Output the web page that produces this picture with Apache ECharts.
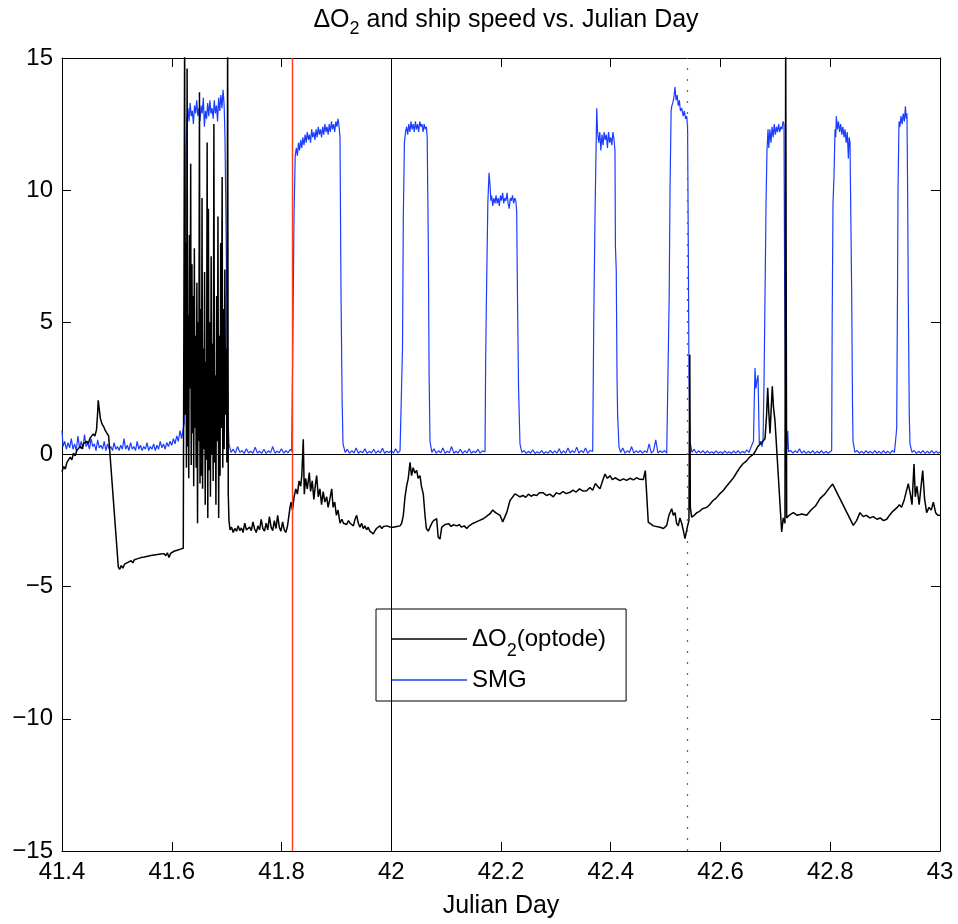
<!DOCTYPE html>
<html>
<head>
<meta charset="utf-8">
<script src="https://cdn.jsdelivr.net/npm/echarts@6/dist/echarts.min.js"></script>
<style>
html,body{margin:0;padding:0;background:#fff;}
#chart{width:958px;height:924px;}
</style>
</head>
<body>
<div id="chart"></div>
<script>
// ---------- data (Julian day, value) ----------
const o2Early = [
[41.400,-0.65],[41.403,-0.45],[41.406,-0.55],[41.409,-0.30],[41.412,-0.35],[41.415,-0.10],[41.418,-0.20],
[41.421,0.05],[41.424,-0.05],[41.427,0.15],[41.430,0.10],[41.433,0.30],[41.436,0.22],[41.439,0.40],
[41.442,0.35],[41.445,0.50],[41.448,0.42],[41.451,0.62],[41.454,0.55],[41.457,0.78],[41.460,0.70],
[41.463,0.95],[41.465,1.6],[41.466,2.05],[41.468,1.7],[41.470,1.35],[41.473,1.15],[41.476,1.05],
[41.479,0.90],[41.482,0.80],[41.485,0.70],[41.487,0.64],
[41.5026,-4.25],[41.505,-4.35],[41.508,-4.20],[41.511,-4.30],[41.514,-4.15],[41.517,-4.22],[41.520,-4.08],
[41.523,-4.14],[41.526,-4.02],[41.529,-4.10],[41.532,-3.98],[41.535,-4.05],[41.538,-3.94],[41.541,-4.00],
[41.544,-3.90],[41.547,-3.97],[41.550,-3.88],[41.553,-3.93],[41.556,-3.85],[41.559,-3.92],[41.562,-3.82],
[41.565,-3.88],[41.568,-3.80],[41.571,-3.86],[41.574,-3.78],[41.577,-3.84],[41.580,-3.76],[41.583,-3.82],
[41.586,-3.75],[41.589,-3.83],[41.592,-3.72],[41.595,-3.90],[41.598,-3.74],[41.601,-3.70],[41.604,-3.66],
[41.607,-3.70],[41.610,-3.62],[41.613,-3.65],[41.616,-3.58],[41.619,-3.62],[41.621,-3.55]
];
const o2Burst = [
[41.6229,-3.5],[41.6235,16],[41.6245,1.5],[41.6258,8.0],[41.6268,-0.5],[41.6280,14.6],[41.6290,0.3],
[41.6300,5.3],[41.6310,-0.9],[41.6322,8.3],[41.6332,2.5],[41.6345,11.0],[41.6355,-0.4],[41.6368,7.2],
[41.6378,0.8],[41.6390,6.0],[41.6400,-1.2],[41.6412,7.8],[41.6422,1.0],[41.6435,4.5],[41.6445,-0.5],
[41.6458,6.5],[41.6470,-2.6],[41.6482,5.0],[41.6492,0.5],[41.6505,13.7],[41.6515,-1.1],[41.6528,5.5],
[41.6540,-0.8],[41.6552,9.7],[41.6562,-1.3],[41.6575,4.0],[41.6585,0.2],[41.6598,6.9],[41.6610,-1.9],
[41.6622,3.5],[41.6632,-0.2],[41.6645,11.8],[41.6657,-2.4],[41.6668,9.3],[41.6680,-0.6],[41.6692,5.0],
[41.6705,-1.6],[41.6718,7.5],[41.6730,0.0],[41.6742,4.2],[41.6755,-1.0],[41.6768,12.5],[41.6780,-0.3],
[41.6792,3.0],[41.6805,-1.9],[41.6818,6.0],[41.6830,0.5],[41.6842,9.0],[41.6855,-2.4],[41.6868,4.5],
[41.6880,-0.8],[41.6892,8.0],[41.6905,1.0],[41.6918,10.5],[41.6930,-0.5],[41.6942,5.5],[41.6955,0.2],
[41.6968,7.0],[41.6980,1.5],[41.6992,4.0],[41.7005,-0.3],[41.7018,16],[41.7030,-1.5],[41.7043,-2.5],
[41.7062,-2.85]
];
const o2Mid = [
[41.709,-2.75],[41.712,-2.95],[41.715,-2.80],[41.718,-2.90],[41.721,-2.70],[41.724,-2.88],[41.727,-2.78],
[41.730,-2.95],[41.733,-2.60],[41.736,-2.85],[41.739,-2.92],[41.742,-2.75],[41.745,-2.88],[41.748,-2.55],
[41.751,-2.82],[41.754,-2.95],[41.757,-2.70],[41.760,-2.85],[41.763,-2.45],[41.766,-2.80],[41.769,-2.90],
[41.772,-2.60],[41.775,-2.85],[41.778,-2.35],[41.781,-2.75],[41.784,-2.88],[41.787,-2.50],[41.790,-2.80],
[41.793,-2.30],[41.796,-2.75],[41.799,-2.90],[41.802,-2.55],[41.805,-2.85],[41.808,-2.95],[41.811,-2.70],
[41.8155,-2.0],[41.8175,-1.8],[41.820,-2.1],[41.823,-1.6],[41.826,-1.3],[41.829,-1.5],[41.832,-1.0],
[41.835,-1.2],[41.837,-0.8],[41.8397,0.58],[41.8415,-1.5],[41.844,-0.9],[41.847,-1.3],[41.8507,-0.68],
[41.853,-1.4],[41.856,-1.0],[41.859,-1.7],[41.862,-1.1],[41.8641,-0.8],[41.867,-1.6],[41.870,-1.3],
[41.873,-1.9],[41.876,-1.4],[41.879,-1.8],[41.8824,-1.6],[41.885,-2.0],[41.888,-1.7],[41.8915,-1.3],
[41.894,-2.0],[41.897,-1.8],[41.900,-2.3],[41.903,-2.1],[41.9066,-2.6],[41.910,-2.45],[41.913,-2.6],
[41.916,-2.55],[41.9188,-2.65],[41.922,-2.5],[41.925,-2.6],[41.928,-2.55],[41.931,-2.7],[41.934,-2.45],
[41.937,-2.3],[41.940,-2.6],[41.943,-2.75],[41.946,-2.6],[41.949,-2.8],[41.952,-2.7],[41.955,-2.85],
[41.958,-2.75],[41.961,-2.9],[41.964,-2.85],[41.9673,-3.0],[41.970,-2.9],[41.973,-2.8],[41.976,-2.85],
[41.9795,-2.7],[41.983,-2.8],[41.986,-2.72],[41.989,-2.78],[41.992,-2.7],[41.995,-2.76],[41.9977,-2.74],
[42.001,-2.7],[42.004,-2.75],[42.007,-2.68],[42.010,-2.72],[42.013,-2.65],[42.016,-2.7],[42.019,-2.6],
[42.022,-2.3],[42.0251,-1.6],[42.028,-1.2],[42.031,-0.9],[42.0342,-0.3],[42.037,-0.8],[42.040,-0.5],
[42.043,-0.7],[42.0464,-0.6],[42.049,-0.9],[42.0524,-0.8],[42.055,-1.2],[42.0584,-1.5],[42.0615,-2.3],
[42.064,-2.8],[42.0675,-2.9],[42.0706,-2.75],[42.074,-2.6],[42.077,-2.5],[42.0828,-2.43],[42.0855,-3.12],
[42.0888,-3.2],[42.092,-2.75],[42.095,-2.7],[42.098,-2.65],[42.1011,-2.68],[42.105,-2.62],[42.109,-2.72],
[42.113,-2.66],[42.1193,-2.7],[42.124,-2.65],[42.128,-2.75],[42.133,-2.7],[42.1375,-2.8],[42.142,-2.7],
[42.1495,-2.6],[42.155,-2.55],[42.160,-2.5],[42.1677,-2.43],[42.173,-2.35],[42.1800,-2.24],[42.185,-2.1],
[42.190,-2.2],[42.1982,-2.3],[42.2031,-2.55],[42.2104,-2.2],[42.2164,-1.74],[42.2255,-1.49],[42.2346,-1.6],
[42.240,-1.55],[42.245,-1.62],[42.250,-1.5],[42.255,-1.58],[42.260,-1.52],[42.2651,-1.55],[42.270,-1.45],
[42.2771,-1.45],[42.283,-1.55],[42.289,-1.5],[42.2953,-1.6],[42.301,-1.45],[42.307,-1.5],[42.313,-1.4],
[42.319,-1.48],[42.3257,-1.43],[42.331,-1.35],[42.337,-1.42],[42.343,-1.3],[42.349,-1.38],[42.3562,-1.37],
[42.362,-1.25],[42.367,-1.35],[42.372,-1.1],[42.376,-1.2],[42.3804,-1.3],[42.385,-1.0],[42.3895,-0.74],
[42.394,-0.9],[42.3986,-0.8],[42.403,-0.95],[42.408,-0.88],[42.4169,-0.99],[42.423,-0.92],[42.429,-0.98],
[42.435,-0.9],[42.4411,-0.96],[42.447,-0.88],[42.453,-0.94],[42.4593,-0.95],[42.4630,-0.61],[42.4684,-2.56],
[42.4775,-2.7],[42.4897,-2.75]
];
const o2Late = [
[42.4960,-2.8],[42.5020,-2.68],[42.5060,-2.3],[42.5111,-2.05],[42.5140,-2.3],[42.5171,-2.2],[42.5200,-2.6],
[42.5231,-2.7],[42.5260,-2.4],[42.5293,-2.6],[42.5325,-2.9],[42.5353,-3.18],[42.5384,-3.2],[42.5400,-2.7],
[42.5425,-2.5],[42.5440,3.77],[42.5450,-2.0],[42.5475,-2.37],[42.552,-2.3],[42.557,-2.2],[42.562,-2.15],
[42.567,-2.05],[42.5749,-2.0],[42.580,-1.9],[42.586,-1.75],[42.592,-1.65],[42.598,-1.5],[42.6051,-1.36],
[42.611,-1.2],[42.617,-1.05],[42.623,-0.9],[42.629,-0.7],[42.6355,-0.49],[42.641,-0.35],[42.647,-0.25],
[42.653,-0.1],[42.6598,0.0],[42.664,0.15],[42.668,0.3],[42.6720,0.39],[42.677,0.5],[42.6811,0.6],
[42.6840,1.5],[42.6860,2.52],[42.6880,1.6],[42.6902,0.8],[42.6944,2.58],[42.6965,1.8],[42.6993,1.27],
[42.7115,-2.93],[42.7144,-2.4],[42.7175,-2.6],[42.7188,16],[42.7206,-2.4],[42.7250,-2.3],[42.7327,-2.2],
[42.740,-2.3],[42.748,-2.25],[42.7571,-2.3],[42.765,-2.1],[42.773,-1.95],[42.7813,-1.67],[42.790,-1.5],
[42.797,-1.3],[42.8044,-1.12],[42.8420,-2.68],[42.848,-2.5],[42.8542,-2.2],[42.860,-2.35],[42.866,-2.3],
[42.872,-2.4],[42.8784,-2.35],[42.885,-2.45],[42.891,-2.4],[42.897,-2.5],[42.9029,-2.45],[42.908,-2.3],
[42.914,-2.15],[42.9211,-2.02],[42.926,-1.9],[42.930,-2.0],[42.935,-1.7],[42.9422,-1.1],[42.946,-1.5],
[42.949,-1.9],[42.9526,-0.36],[42.955,-1.6],[42.958,-1.2],[42.962,-1.9],[42.9685,-0.61],[42.972,-1.7],
[42.9757,-2.2],[42.980,-2.0],[42.984,-2.1],[42.9879,-1.8],[42.992,-2.2],[42.996,-2.3],[43.000,-2.3]
];

const smgA = [
[41.400,0.9],[41.402,0.3],[41.405,0.5],[41.408,0.2],[41.411,0.45],[41.414,0.25],[41.417,0.6],[41.420,0.2],
[41.423,0.4],[41.426,0.15],[41.429,0.7],[41.432,0.25],[41.435,0.5],[41.438,0.2],[41.441,0.75],[41.444,0.3],
[41.447,0.45],[41.450,0.2],[41.453,0.6],[41.456,0.3],[41.459,0.4],[41.462,0.15],[41.465,0.55],[41.468,0.25],
[41.471,0.35],[41.474,0.2],[41.477,0.5],[41.480,0.15],[41.483,0.4],[41.486,0.2],[41.489,0.3],[41.492,0.15],
[41.495,0.45],[41.498,0.2],[41.501,0.3],[41.504,0.15],[41.507,0.35],[41.510,0.2],[41.513,0.6],[41.516,0.2],
[41.519,0.35],[41.522,0.15],[41.525,0.45],[41.528,0.2],[41.531,0.3],[41.534,0.15],[41.537,0.5],[41.540,0.2],
[41.543,0.35],[41.546,0.15],[41.549,0.3],[41.552,0.2],[41.555,0.45],[41.558,0.15],[41.561,0.3],[41.564,0.2],
[41.567,0.4],[41.570,0.15],[41.573,0.35],[41.576,0.2],[41.579,0.5],[41.582,0.25],[41.585,0.4],[41.588,0.2],
[41.591,0.45],[41.594,0.3],[41.597,0.5],[41.600,0.35],[41.603,0.6],[41.606,0.4],[41.609,0.7],[41.612,0.5],
[41.615,0.9],[41.618,0.6],[41.621,1.0],
[41.6229,1.2],[41.6241,6.5],[41.6260,11.5],[41.6278,12.7],[41.6295,13.1],[41.6315,12.6],[41.6335,13.3],
[41.6355,12.8],[41.6375,13.0],[41.6395,12.5],[41.6415,13.2],[41.6435,12.9],[41.6455,13.4],[41.6475,12.8],
[41.6495,13.1],[41.6515,12.6],[41.6535,13.2],[41.6555,12.9],[41.6575,13.5],[41.6595,12.4],[41.6615,13.0],
[41.6635,12.7],[41.6655,13.3],[41.6675,12.8],[41.6695,13.4],[41.6715,12.9],[41.6735,13.1],[41.6755,12.7],
[41.6775,13.4],[41.6795,12.9],[41.6815,13.2],[41.6835,12.6],[41.6855,13.5],[41.6875,13.0],[41.6895,13.6],
[41.6915,13.1],[41.6935,13.8],[41.6955,13.2],[41.6970,12.0],[41.6990,8.5],[41.7006,5.0],[41.7025,1.5],
[41.7043,0.4]
];
const smgB = [
[41.708,0.08],[41.712,0.2],[41.716,0.05],[41.720,0.3],[41.724,0.08],[41.728,0.15],[41.732,0.04],[41.736,0.22],
[41.740,0.06],[41.744,0.12],[41.748,0.05],[41.752,0.28],[41.756,0.06],[41.760,0.12],[41.764,0.05],[41.768,0.2],
[41.772,0.04],[41.776,0.14],[41.780,0.06],[41.784,0.3],[41.788,0.05],[41.792,0.12],[41.796,0.07],[41.800,0.22],
[41.804,0.05],[41.808,0.15],[41.812,0.06],[41.816,0.2],[41.8186,0.12],
[41.8210,5.0],[41.8228,9.0],[41.8250,11.3],[41.827,11.6],[41.829,11.3],[41.831,11.8],[41.833,11.5],
[41.835,11.9],[41.837,11.6],[41.839,12.0],[41.841,11.7],[41.843,12.1],[41.845,11.8],[41.847,12.2],
[41.849,11.9],[41.851,12.1],[41.853,11.8],[41.855,12.3],[41.857,12.0],[41.859,12.2],[41.861,11.9],
[41.863,12.3],[41.865,12.0],[41.867,12.4],[41.869,12.1],[41.871,12.3],[41.873,12.0],[41.875,12.4],
[41.877,12.1],[41.879,12.5],[41.881,12.2],[41.883,12.4],[41.885,12.1],[41.887,12.5],[41.889,12.2],
[41.891,12.6],[41.893,12.3],[41.895,12.5],[41.897,12.2],[41.899,12.6],[41.901,12.4],[41.903,12.7],
[41.905,12.4],[41.9066,12.0],[41.9085,6.0],[41.9105,2.0],[41.9121,0.4],
[41.916,0.08],[41.920,0.2],[41.924,0.05],[41.928,0.14],[41.932,0.06],[41.936,0.25],[41.940,0.05],[41.944,0.12],
[41.948,0.07],[41.952,0.22],[41.956,0.04],[41.960,0.12],[41.964,0.06],[41.968,0.2],[41.972,0.05],[41.976,0.14],
[41.980,0.06],[41.984,0.24],[41.988,0.05],[41.992,0.12],[41.996,0.07],[42.000,0.15],[42.004,0.05],[42.008,0.22],
[42.012,0.06],[42.016,0.14],[42.019,0.1],
[42.0205,4.0],[42.0220,9.0],[42.0240,11.8],[42.0260,12.2],[42.028,12.4],[42.030,12.1],[42.032,12.5],
[42.034,12.2],[42.036,12.6],[42.038,12.3],[42.040,12.5],[42.042,12.2],[42.044,12.6],[42.046,12.3],
[42.048,12.5],[42.050,12.2],[42.052,12.6],[42.054,12.4],[42.056,12.5],[42.058,12.2],[42.060,12.5],
[42.062,12.3],[42.064,12.4],[42.0655,12.0],[42.0675,8.0],[42.0690,3.0],[42.0706,0.5]
];
const smgC = [
[42.074,0.08],[42.078,0.22],[42.082,0.05],[42.086,0.14],[42.090,0.06],[42.094,0.25],[42.098,0.05],[42.102,0.12],
[42.106,0.07],[42.110,0.3],[42.114,0.05],[42.118,0.12],[42.122,0.06],[42.126,0.2],[42.130,0.04],[42.134,0.14],
[42.138,0.06],[42.142,0.22],[42.146,0.05],[42.150,0.12],[42.154,0.07],[42.158,0.2],[42.162,0.05],[42.166,0.14],
[42.1709,0.1],
[42.1720,3.5],[42.1735,6.0],[42.1760,9.5],[42.1782,10.66],[42.1800,10.2],[42.1815,9.6],[42.183,9.8],
[42.185,9.4],[42.187,9.7],[42.189,9.5],[42.191,9.8],[42.193,9.5],[42.195,9.7],[42.197,9.4],[42.199,9.8],
[42.201,9.6],[42.203,9.9],[42.205,9.5],[42.207,9.7],[42.209,9.6],[42.211,9.9],[42.213,9.5],[42.215,9.3],
[42.217,9.7],[42.219,9.6],[42.221,9.8],[42.223,9.5],[42.225,9.7],[42.227,9.6],[42.2286,9.2],[42.2300,6.0],
[42.2320,2.5],[42.2346,0.4],
[42.238,0.08],[42.242,0.15],[42.246,0.04],[42.250,0.12],[42.254,0.05],[42.258,0.18],[42.262,0.04],[42.266,0.1],
[42.270,0.05],[42.274,0.15],[42.278,0.04],[42.282,0.1],[42.286,0.05],[42.290,0.16],[42.294,0.04],[42.298,0.14],
[42.302,0.05],[42.306,0.22],[42.310,0.04],[42.314,0.14],[42.318,0.05],[42.322,0.25],[42.326,0.06],[42.330,0.14],
[42.334,0.07],[42.338,0.28],[42.342,0.05],[42.346,0.15],[42.350,0.07],[42.354,0.25],[42.358,0.05],[42.362,0.15],
[42.3671,0.12],
[42.3690,5.0],[42.3713,9.0],[42.3744,13.1],[42.3760,12.2],[42.378,11.8],[42.380,12.2],[42.382,11.5],
[42.384,12.1],[42.386,11.7],[42.388,12.2],[42.390,11.9],[42.392,12.1],[42.394,11.6],[42.396,12.2],
[42.398,11.8],[42.400,12.0],[42.402,11.7],[42.404,12.2],[42.406,11.9],[42.4077,11.5],[42.4085,7.9],
[42.4100,7.0],[42.4114,3.0],[42.4125,1.5],[42.4150,0.3],
[42.418,0.08],[42.422,0.25],[42.426,0.05],[42.430,0.14],[42.434,0.07],[42.438,0.3],[42.442,0.05],[42.446,0.14],
[42.450,0.07],[42.454,0.15],[42.458,0.05],[42.462,0.14],[42.466,0.07],[42.470,0.4],[42.474,0.05],[42.478,0.14],
[42.482,0.55],[42.486,0.05],[42.490,0.14],[42.494,0.07],[42.498,0.15],[42.502,0.05],[42.5049,0.12]
];
const smgD = [
[42.5065,6.0],[42.5080,10.0],[42.5100,13.0],[42.5111,13.17],[42.5130,13.3],[42.5150,13.5],[42.5171,13.9],
[42.5190,13.4],[42.5210,13.6],[42.5231,13.2],[42.5250,13.4],[42.5270,13.0],[42.5293,13.1],[42.5320,12.8],
[42.5340,13.0],[42.5365,12.7],[42.5384,12.8],[42.5400,12.4],[42.5413,8.0],[42.5425,3.0],[42.5444,0.5],
[42.548,0.08],[42.552,0.2],[42.556,0.05],[42.560,0.14],[42.564,0.06],[42.568,0.15],[42.572,0.04],[42.576,0.14],
[42.580,0.05],[42.584,0.1],[42.588,0.04],[42.592,0.14],[42.596,0.05],[42.600,0.1],[42.604,0.04],[42.608,0.14],
[42.612,0.05],[42.616,0.1],[42.620,0.04],[42.624,0.14],[42.628,0.05],[42.632,0.15],[42.636,0.04],[42.640,0.12],
[42.644,0.06],[42.648,0.18],[42.652,0.07],[42.656,0.3],[42.6601,0.5],
[42.6615,2.0],[42.6629,3.27],[42.6645,2.5],[42.6665,2.8],[42.6684,3.0],[42.6707,0.4],[42.6730,0.5],
[42.6755,0.3],[42.6775,0.5],
[42.6795,3.0],[42.6811,6.0],[42.6830,9.5],[42.6847,11.5],[42.6866,12.3],[42.6880,11.6],[42.690,12.3],
[42.692,11.8],[42.694,12.4],[42.696,12.0],[42.698,12.5],[42.700,12.1],[42.702,12.4],[42.704,12.2],
[42.706,12.5],[42.708,12.2],[42.710,12.4],[42.712,12.3],[42.714,12.6],[42.7157,12.5],[42.7170,6.0],
[42.7194,0.5],[42.7210,0.2],[42.7225,0.9],[42.7240,0.1],
[42.728,0.15],[42.732,0.05],[42.736,0.14],[42.740,0.07],[42.744,0.22],[42.748,0.05],[42.752,0.14],[42.756,0.04],
[42.760,0.12],[42.764,0.05],[42.768,0.15],[42.772,0.04],[42.776,0.12],[42.780,0.05],[42.784,0.15],[42.788,0.04],
[42.792,0.12],[42.796,0.05],[42.8026,0.15],
[42.8035,5.0],[42.8050,9.5],[42.8068,10.5],[42.8087,12.3],[42.8100,12.0],[42.8111,12.8],[42.813,12.3],
[42.815,12.6],[42.817,12.2],[42.819,12.5],[42.821,12.1],[42.823,12.4],[42.825,12.0],[42.827,12.3],
[42.829,11.8],[42.831,12.2],[42.8330,11.2],[42.8345,12.0],[42.8360,11.8],[42.8375,9.0],[42.8391,6.0],
[42.8405,2.0],[42.8415,0.5],
[42.845,0.08],[42.849,0.15],[42.853,0.05],[42.857,0.12],[42.861,0.04],[42.865,0.15],[42.869,0.05],[42.873,0.12],
[42.877,0.04],[42.881,0.15],[42.885,0.05],[42.889,0.12],[42.893,0.04],[42.897,0.15],[42.901,0.05],[42.905,0.12],
[42.909,0.04],[42.913,0.15],[42.917,0.08],[42.9194,0.6],
[42.9211,1.0],[42.9225,6.0],[42.9235,10.0],[42.9253,12.6],[42.927,12.4],[42.929,12.8],[42.931,12.5],
[42.933,12.9],[42.935,12.6],[42.937,13.17],[42.9385,12.7],[42.9398,12.9],[42.9410,10.0],[42.9422,6.0],
[42.9440,1.5],[42.9453,0.4],
[42.949,0.08],[42.953,0.15],[42.957,0.04],[42.961,0.12],[42.965,0.05],[42.969,0.15],[42.973,0.04],[42.977,0.12],
[42.981,0.05],[42.985,0.15],[42.989,0.04],[42.993,0.12],[42.997,0.05],[43.000,0.1]
];

// reference lines (Julian day)
const blackDayLine = 42.0;
const redDayLine = 41.8155;
const redDottedDayLine = 42.541;

// axis ranges
const xRange = [41.4, 43, 0.2];
const yRange = [-15, 15, 5];

const o2Points = o2Early.concat(o2Burst, o2Mid, o2Late);
const smgPoints = smgA.concat(smgB, smgC, smgD);

const FONT = 'Liberation Sans, Arial, Helvetica, sans-serif';
const chart = echarts.init(document.getElementById('chart'), null, {renderer: 'canvas'});

const minusFmt = v => String(v).replace('-', '\u2212');
const boxAxisCommon = {
  axisLine: {show: true, onZero: false, lineStyle: {color: '#000', width: 1}},
  axisTick: {show: true, inside: true, length: 9, lineStyle: {color: '#000', width: 1}},
  splitLine: {show: false}
};

chart.setOption({
  animation: false,
  backgroundColor: '#fff',
  title: {
    text: '{m|\u0394O}{s|2}{m| and ship speed vs. Julian Day}',
    left: 501, top: -3, textAlign: 'center',
    textStyle: {
      fontWeight: 'normal',
      rich: {
        m: {fontFamily: FONT, fontSize: 25, fontWeight: 'normal', color: '#000', lineHeight: 36, verticalAlign: 'middle'},
        s: {fontFamily: FONT, fontSize: 18, fontWeight: 'normal', color: '#000', lineHeight: 18, verticalAlign: 'bottom'}
      }
    }
  },
  grid: {left: 62, right: 18, top: 58, bottom: 68, containLabel: false},
  legend: {
    orient: 'vertical',
    left: 376, top: 609,
    padding: [18, 20, 9, 16],
    itemGap: 8,
    itemWidth: 75, itemHeight: 1.4,
    itemTextGap: 10,
    backgroundColor: '#fff',
    borderColor: '#000', borderWidth: 1,
    data: [{name: 'o2', icon: 'rect'}, {name: 'smg', icon: 'rect'}],
    formatter: name => name === 'o2' ? '{m|\u0394O}{s|2}{m|(optode)}' : '{m|SMG}',
    textStyle: {
      rich: {
        m: {fontFamily: FONT, fontSize: 24, color: '#000', lineHeight: 42, verticalAlign: 'middle'},
        s: {fontFamily: FONT, fontSize: 18, color: '#000', lineHeight: 22, verticalAlign: 'bottom'}
      }
    }
  },
  xAxis: [
    Object.assign({
      type: 'value', min: xRange[0], max: xRange[1], interval: xRange[2], position: 'bottom',
      axisLabel: {color: '#000', fontFamily: FONT, fontSize: 24, margin: 9, showMinLabel: true, showMaxLabel: true},
      name: 'Julian Day', nameLocation: 'middle', nameGap: 43,
      nameTextStyle: {color: '#000', fontFamily: FONT, fontSize: 25}
    }, boxAxisCommon),
    Object.assign({
      type: 'value', min: xRange[0], max: xRange[1], interval: xRange[2], position: 'top',
      axisLabel: {show: false}
    }, boxAxisCommon)
  ],
  yAxis: [
    Object.assign({
      type: 'value', min: yRange[0], max: yRange[1], interval: yRange[2], position: 'left',
      axisLabel: {color: '#000', fontFamily: FONT, fontSize: 24, margin: 9, formatter: minusFmt}
    }, boxAxisCommon),
    Object.assign({
      type: 'value', min: yRange[0], max: yRange[1], interval: yRange[2], position: 'right',
      axisLabel: {show: false}
    }, boxAxisCommon)
  ],
  series: [
    {
      name: 'smg', type: 'line', data: smgPoints, xAxisIndex: 0, yAxisIndex: 0,
      showSymbol: false, symbol: 'none', clip: true,
      lineStyle: {color: '#1a3cff', width: 1.2}, itemStyle: {color: '#1a3cff'},
      z: 2,
      markLine: {
        silent: true, symbol: ['none', 'none'], label: {show: false},
        data: [
          {yAxis: 0, lineStyle: {color: '#000', width: 1, type: 'solid'}},
          {xAxis: blackDayLine, lineStyle: {color: '#000', width: 1, type: 'solid'}},
          {xAxis: redDayLine, lineStyle: {color: '#ff3a1a', width: 1.4, type: 'solid'}},
          {xAxis: redDottedDayLine, lineStyle: {color: '#ff3010', width: 1.3, type: [2, 9]}}
        ]
      }
    },
    {
      name: 'o2', type: 'line', data: o2Points, xAxisIndex: 0, yAxisIndex: 0,
      showSymbol: false, symbol: 'none', clip: true,
      lineStyle: {color: '#000', width: 1.5}, itemStyle: {color: '#000'},
      z: 3
    }
  ]
});
</script>
</body>
</html>
